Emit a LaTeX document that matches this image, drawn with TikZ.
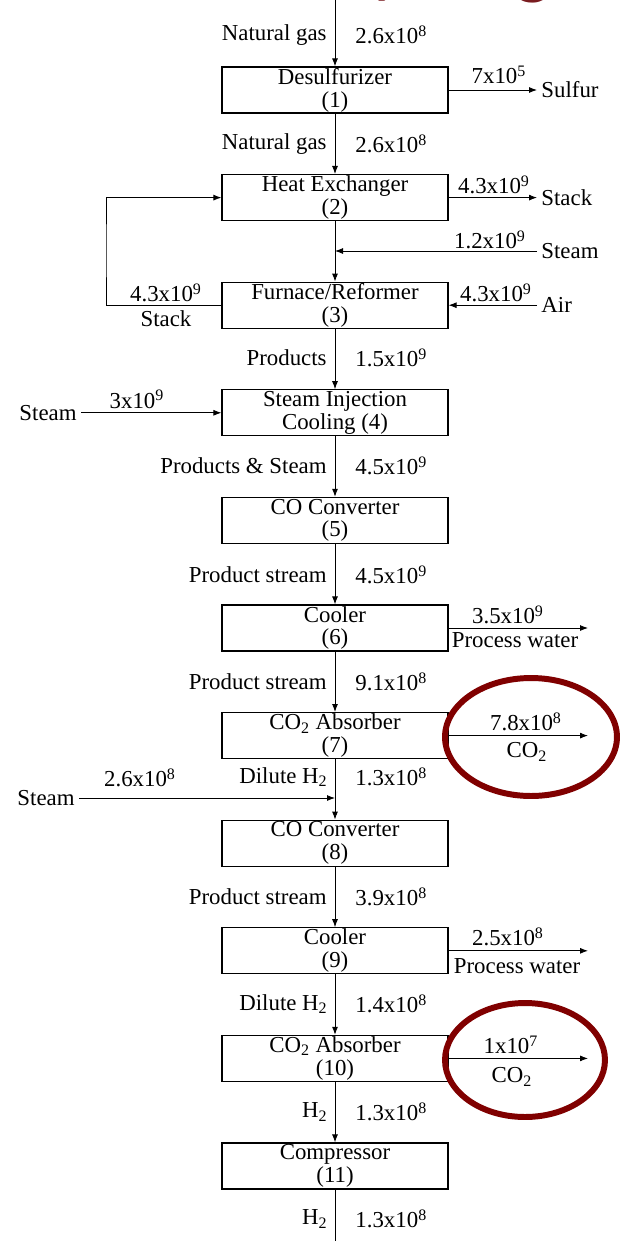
\documentclass[tikz,border=0pt]{standalone}
\usepackage{fontspec}
\setmainfont{Liberation Serif}
\newfontfamily\headfont{Carlito}
\usetikzlibrary{arrows.meta}
\definecolor{ringred}{RGB}{128,0,0}
\definecolor{headred}{RGB}{122,28,32}
\tikzset{
  >={Latex[length=1.6mm,width=1.2mm]},
  unit/.style={draw,line width=0.7pt,minimum width=4.52cm,minimum height=0.92cm,
    inner sep=0pt,align=center,font=\fontsize{13}{13}\selectfont},
  lab/.style={inner sep=0pt,font=\fontsize{13}{15}\selectfont},
  ring/.style={draw=ringred,line width=3.4pt},
  gap/.style={shorten >=0.08cm},
  pag/.style={shorten <=0.08cm}
}
\begin{document}
\begin{tikzpicture}[x=0.02cm,y=-0.02cm,line width=0.5pt]
\useasboundingbox (0,0) rectangle (622,1241);
% cut title
\node[headred,font=\headfont\fontsize{45}{45}\selectfont,anchor=base,inner sep=0pt] (hy) at (388,-12) {y};
\node[headred,font=\headfont\fontsize{45}{45}\selectfont,anchor=base,inner sep=0pt] (hg) at (533,-11) {g};
% units
\node[unit] (b1) at (335,90) {Desulfurizer\\(1)};
\node[unit] (b2) at (335,197.6) {Heat Exchanger\\(2)};
\node[unit] (b3) at (335,305.2) {Furnace/Reformer\\(3)};
\node[unit] (b4) at (335,412.8) {Steam Injection\\Cooling (4)};
\node[unit] (b5) at (335,520.4) {CO Converter\\(5)};
\node[unit] (b6) at (335,628) {Cooler\\(6)};
\node[unit] (b7) at (335,735.6) {CO\textsubscript{2} Absorber\\(7)};
\node[unit] (b8) at (335,843.2) {CO Converter\\(8)};
\node[unit] (b9) at (335,950.8) {Cooler\\(9)};
\node[unit] (b10) at (335,1058.4) {CO\textsubscript{2} Absorber\\(10)};
\node[unit] (b11) at (335,1166) {Compressor\\(11)};
% main line
\coordinate (top) at (335,0);
\coordinate (bot) at (335,1241);
\coordinate (j1) at (335,251);
\coordinate (j2) at (335,798);
\draw[->] (top) -- (b1);
\draw[->] (b1) -- (b2);
\draw[->] (b2) -- (b3);
\draw[->] (b3) -- (b4);
\draw[->] (b4) -- (b5);
\draw[->] (b5) -- (b6);
\draw[->] (b6) -- (b7);
\draw[->] (b7) -- (b8);
\draw[->] (b8) -- (b9);
\draw[->] (b9) -- (b10);
\draw[->] (b10) -- (b11);
\draw (b11) -- (bot);
% stream labels
\node[lab,anchor=east] (l0) at (327,35) {Natural gas};
\node[lab,anchor=west] (r0) at (355,35) {2.6x10\textsuperscript{8}};
\node[lab,anchor=east] (l1) at (327,144) {Natural gas};
\node[lab,anchor=west] (r1) at (355,144) {2.6x10\textsuperscript{8}};
\node[lab,anchor=east] (l3) at (327,358) {Products};
\node[lab,anchor=west] (r3) at (355,358) {1.5x10\textsuperscript{9}};
\node[lab,anchor=east] (l4) at (327,466) {Products \& Steam};
\node[lab,anchor=west] (r4) at (355,466) {4.5x10\textsuperscript{9}};
\node[lab,anchor=east] (l5) at (327,575) {Product stream};
\node[lab,anchor=west] (r5) at (355,575) {4.5x10\textsuperscript{9}};
\node[lab,anchor=east] (l6) at (327,682) {Product stream};
\node[lab,anchor=west] (r6) at (355,682) {9.1x10\textsuperscript{8}};
\node[lab,anchor=east] (l7) at (328,777) {Dilute H\textsubscript{2}};
\node[lab,anchor=west] (r7) at (355,777) {1.3x10\textsuperscript{8}};
\node[lab,anchor=east] (l8) at (327,897) {Product stream};
\node[lab,anchor=west] (r8) at (355,897) {3.9x10\textsuperscript{8}};
\node[lab,anchor=east] (l9) at (328,1004) {Dilute H\textsubscript{2}};
\node[lab,anchor=west] (r9) at (355,1004) {1.4x10\textsuperscript{8}};
\node[lab,anchor=east] (l10) at (328,1112) {H\textsubscript{2}};
\node[lab,anchor=west] (r10) at (355,1112) {1.3x10\textsuperscript{8}};
\node[lab,anchor=east] (l11) at (328,1219) {H\textsubscript{2}};
\node[lab,anchor=west] (r11) at (355,1219) {1.3x10\textsuperscript{8}};
% side streams
\node[lab,anchor=west] (sul) at (541,90) {Sulfur};
\node[lab] (n1) at (499,75) {7x10\textsuperscript{5}};
\draw[->,gap] (b1) -- (sul);
\node[lab,anchor=west] (stk) at (541,197.6) {Stack};
\node[lab] (n2) at (494,185) {4.3x10\textsuperscript{9}};
\draw[->,gap] (b2) -- (stk);
\node[lab,anchor=west] (st1) at (541,251) {Steam};
\node[lab] (n2b) at (490,240) {1.2x10\textsuperscript{9}};
\draw[->,pag] (st1) -- (j1);
\node[lab,anchor=west] (air) at (541,305.2) {Air};
\node[lab] (n3) at (496,293) {4.3x10\textsuperscript{9}};
\draw[->,pag] (air) -- (b3);
\coordinate (rc) at (106,250);
\draw[->] (b3.west) -| (rc) |- (b2.west);
\node[lab] (n3b) at (166,293) {4.3x10\textsuperscript{9}};
\node[lab] (stk2) at (166,319) {Stack};
\node[lab,anchor=east] (st2) at (77,412.8) {Steam};
\node[lab] (n4) at (137,399) {3x10\textsuperscript{9}};
\draw[->,pag] (st2) -- (b4);
\coordinate (o6) at (588,628);
\draw[->] (b6) -- (o6);
\node[lab] (n6) at (508,615) {3.5x10\textsuperscript{9}};
\node[lab] (pw6) at (515,640) {Process water};
\coordinate (o7) at (588,735.6);
\draw[->] (b7) -- (o7);
\node[lab] (n7) at (526,722) {7.8x10\textsuperscript{8}};
\node[lab] (co7) at (527,752) {CO\textsubscript{2}};
\node[lab,anchor=east] (st3) at (75,798) {Steam};
\node[lab] (n7b) at (140,778) {2.6x10\textsuperscript{8}};
\draw[->,pag] (st3) -- (j2);
\coordinate (o9) at (588,950.8);
\draw[->] (b9) -- (o9);
\node[lab] (n9) at (508,937) {2.5x10\textsuperscript{8}};
\node[lab] (pw9) at (517,966) {Process water};
\coordinate (o10) at (588,1058.4);
\draw[->] (b10) -- (o10);
\node[lab] (n10) at (511,1045) {1x10\textsuperscript{7}};
\node[lab] (co10) at (512,1077) {CO\textsubscript{2}};
% highlight rings
\draw[ring] (531,737) ellipse [x radius=1.72cm,y radius=1.18cm];
\draw[ring] (525,1060) ellipse [x radius=1.6cm,y radius=1.14cm];
\end{tikzpicture}
\end{document}
